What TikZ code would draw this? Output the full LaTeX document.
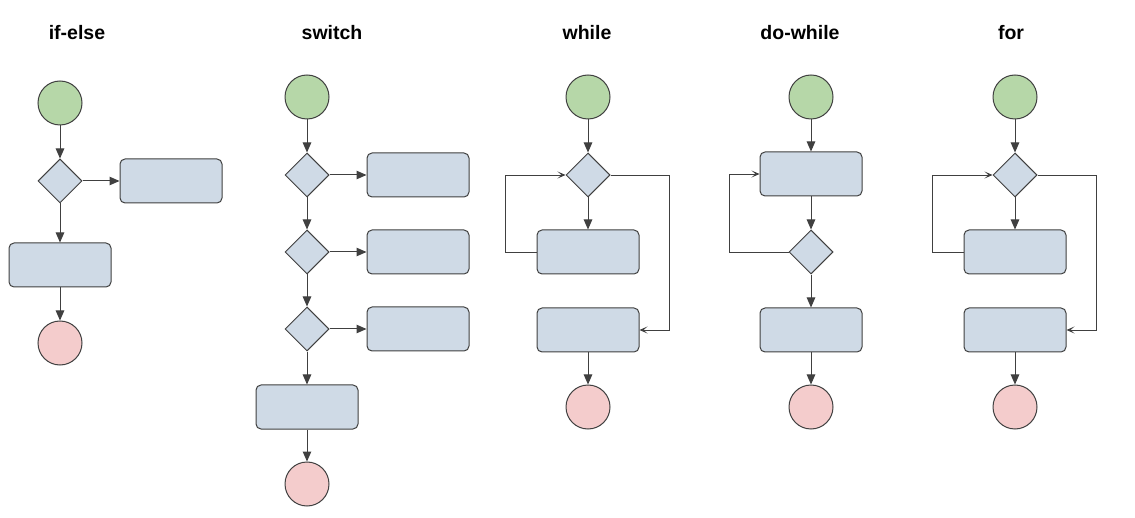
\documentclass[tikz,border=0pt]{standalone}
\usepackage{fontspec}
\setmainfont{Liberation Sans}
\usetikzlibrary{positioning,shapes.geometric,arrows.meta}

\definecolor{startgreen}{HTML}{B6D7A8}
\definecolor{stopred}{HTML}{F4CCCC}
\definecolor{procblue}{HTML}{CFDAE6}
\definecolor{linegray}{HTML}{404040}

\begin{document}
\begin{tikzpicture}[x=1pt,y=-1pt,node distance=78pt,on grid,
  every node/.style = {draw=linegray, line width=1pt, inner sep=0pt},
  title/.style = {draw=none, font=\bfseries\fontsize{19.5}{22}\selectfont, anchor=base},
  start/.style = {circle, fill=startgreen, minimum size=44pt},
  stop/.style = {circle, fill=stopred, minimum size=44pt},
  proc/.style = {rectangle, rounded corners=5pt, fill=procblue,
    minimum width=102pt, minimum height=44pt},
  cond/.style = {diamond, aspect=1, fill=procblue,
    minimum width=44pt, minimum height=44pt},
  flow/.style = {draw=linegray, line width=1pt, -{Triangle[length=10pt,width=8.5pt]}},
  back/.style = {draw=linegray, line width=0.8pt, -{Stealth[length=8pt,width=7pt,inset=4pt]}}]
  \useasboundingbox (0,0) rectangle (1135,518);

  % titles
  \node[title] (t1) at (77,40) {if-else};
  \node[title] (t2) at (332,40) {switch};
  \node[title] (t3) at (587,40) {while};
  \node[title] (t4) at (800,40) {do-while};
  \node[title] (t5) at (1011,40) {for};

  % if-else
  \node[start] (s1) at (60,103) {};
  \node[cond, below=78pt of s1] (c1) {};
  \node[proc, right=111pt of c1] (p1) {};
  \node[proc, below=84pt of c1] (p2) {};
  \node[stop, below=78pt of p2] (e1) {};
  \draw[flow] (s1) -- (c1);
  \draw[flow] (c1) -- (p1);
  \draw[flow] (c1) -- (p2);
  \draw[flow] (p2) -- (e1);

  % switch
  \node[start] (s2) at (307,97) {};
  \node[cond, below=78pt of s2] (c2) {};
  \node[cond, below=77pt of c2] (c3) {};
  \node[cond, below=77pt of c3] (c4) {};
  \node[proc, right=111pt of c2] (p3) {};
  \node[proc, right=111pt of c3] (p4) {};
  \node[proc, right=111pt of c4] (p5) {};
  \node[proc, below=78pt of c4] (p6) {};
  \node[stop, below=77pt of p6] (e2) {};
  \draw[flow] (s2) -- (c2);
  \draw[flow] (c2) -- (c3);
  \draw[flow] (c3) -- (c4);
  \draw[flow] (c4) -- (p6);
  \draw[flow] (p6) -- (e2);
  \draw[flow] (c2) -- (p3);
  \draw[flow] (c3) -- (p4);
  \draw[flow] (c4) -- (p5);

  % while
  \node[start] (s3) at (588,97) {};
  \node[cond, below=78pt of s3] (c5) {};
  \node[proc, below=77pt of c5] (p7) {};
  \node[proc, below=78pt of p7] (p8) {};
  \node[stop, below=77pt of p8] (e3) {};
  \draw[flow] (s3) -- (c5);
  \draw[flow] (c5) -- (p7);
  \draw[flow] (p8) -- (e3);
  \draw[back] (p7.west) -- ++(-31,0) |- (c5.west);
  \draw[back] (c5.east) -- ++(59,0) |- (p8.east);

  % do-while
  \node[start] (s4) at (811,97) {};
  \node[proc, below=77pt of s4] (p9) {};
  \node[cond, below=78pt of p9] (c6) {};
  \node[proc, below=78pt of c6] (p10) {};
  \node[stop, below=77pt of p10] (e4) {};
  \draw[flow] (s4) -- (p9);
  \draw[flow] (p9) -- (c6);
  \draw[flow] (c6) -- (p10);
  \draw[flow] (p10) -- (e4);
  \draw[back] (c6.west) -- ++(-59,0) |- (p9.west);

  % for
  \node[start] (s5) at (1015,97) {};
  \node[cond, below=78pt of s5] (c7) {};
  \node[proc, below=77pt of c7] (p11) {};
  \node[proc, below=78pt of p11] (p12) {};
  \node[stop, below=77pt of p12] (e5) {};
  \draw[flow] (s5) -- (c7);
  \draw[flow] (c7) -- (p11);
  \draw[flow] (p12) -- (e5);
  \draw[back] (p11.west) -- ++(-31,0) |- (c7.west);
  \draw[back] (c7.east) -- ++(59,0) |- (p12.east);
\end{tikzpicture}
\end{document}
